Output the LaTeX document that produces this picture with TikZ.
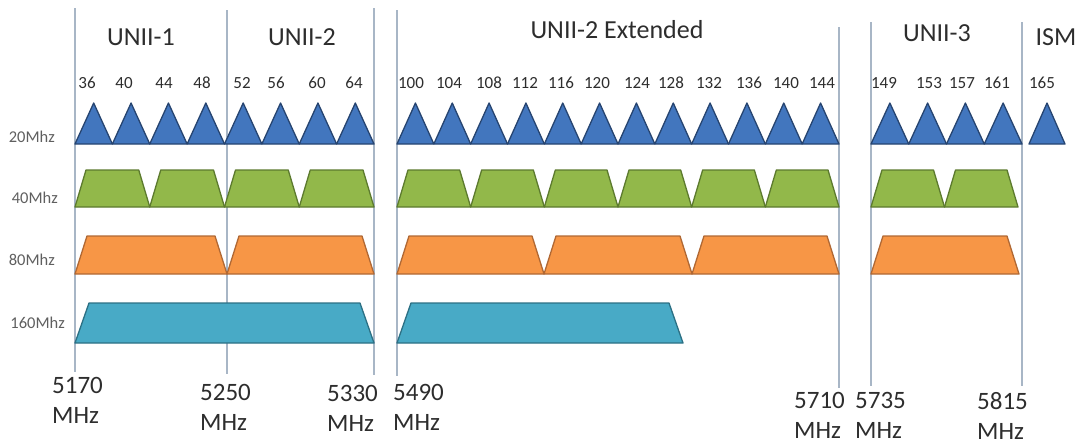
\documentclass[tikz,border=0pt]{standalone}
\usepackage{fontspec}
\setmainfont{Carlito}
\definecolor{bandgray}{RGB}{168,182,198}
\definecolor{chanblue}{RGB}{66,118,190}
\definecolor{chanblueedge}{RGB}{38,68,112}
\definecolor{changreen}{RGB}{146,184,74}
\definecolor{changreenedge}{RGB}{92,122,46}
\definecolor{chanorange}{RGB}{247,150,70}
\definecolor{chanorangeedge}{RGB}{176,104,52}
\definecolor{chanteal}{RGB}{72,170,198}
\definecolor{chantealedge}{RGB}{44,112,132}
\definecolor{labelgray}{RGB}{45,45,45}
\definecolor{rowgray}{RGB}{95,95,95}

\begin{document}
\begin{tikzpicture}[x=1pt,y=-1pt,line join=round,
    bandline/.style={bandgray,line width=1.4pt},
    tri/.style={fill=chanblue,draw=chanblueedge,line width=1.3pt},
    wide40/.style={fill=changreen,draw=changreenedge,line width=1.3pt},
    wide80/.style={fill=chanorange,draw=chanorangeedge,line width=1.3pt},
    wide160/.style={fill=chanteal,draw=chantealedge,line width=1.3pt},
    bandtitle/.style={font=\fontsize{26}{30}\selectfont,text=labelgray,inner sep=0pt},
    chan/.style={font=\fontsize{17}{20}\selectfont,text=labelgray,inner sep=0pt},
    rowname/.style={font=\fontsize{16.5}{20}\selectfont,text=rowgray,inner sep=0pt,anchor=east},
    freq/.style={font=\fontsize{25}{30}\selectfont,text=labelgray,inner sep=0pt,
      align=left,anchor=north west}]
    \useasboundingbox (0,0) rectangle (1082,445);

    \foreach \x/\top/\bot in {75/8/372,227/10/374,374/8/375,397/10/376,
      839/27/388,871/22/386,1022/22/386} {
      \draw[bandline] (\x,\top)--(\x,\bot);
    }

    \foreach \s/\w/\n in {75/37.375/8,397/36.833/12,871/37.75/4,1029/36/1} {
      \foreach \i in {1,...,\n} {
        \draw[tri] ({\s+\w*(\i-1)},144)--++({\w/2},-41)--++({\w/2},41)--cycle;
      }
    }
    \foreach \s/\w/\n in {75/74.75/4,397/73.667/6,871/73.5/2} {
      \foreach \i in {1,...,\n} {
        \draw[wide40] ({\s+\w*(\i-1)},207)--++(11,-37)
          --({\s+\w*\i-11},170)--({\s+\w*\i},207)--cycle;
      }
    }
    \foreach \a/\b in {75/227,227/374,397/544,544/692,692/839,871/1019} {
      \draw[wide80] (\a,274)--(\a+12,236)--(\b-12,236)--(\b,274)--cycle;
    }
    \foreach \a/\b in {75/374,397/683} {
      \draw[wide160] (\a,343)--(\a+14,303)--(\b-14,303)--(\b,343)--cycle;
    }

    \node[bandtitle] (unii1) at (141,37) {UNII-1};
    \node[bandtitle] (unii2) at (302,37) {UNII-2};
    \node[bandtitle] (unii2e) at (617,30) {UNII-2 Extended};
    \node[bandtitle] (unii3) at (937,33) {UNII-3};
    \node[bandtitle] (ism) at (1056,37) {ISM};

    \foreach \x/\c in {87/36,124/40,164/44,202/48,242/52,276/56,317/60,354/64,
      411/100,449/104,489/108,525/112,561/116,597/120,637/124,671/128,
      709/132,749/136,786/140,822/144,884/149,929/153,962/157,997/161,1042/165} {
      \node[chan] (ch\c) at (\x,83) {\c};
    }

    \node[rowname] (row20) at (55,137) {20Mhz};
    \node[rowname] (row40) at (58,198) {40Mhz};
    \node[rowname] (row80) at (55,260) {80Mhz};
    \node[rowname] (row160) at (65,323) {160Mhz};

    \foreach \x/\y/\f in {52/377/5170,200/384/5250,327/385/5330,393/384/5490,
      794/392/5710,855/392/5735,977/392/5815} {
      \node[freq] (f\f) at (\x,\y) {\f\\MHz};
    }
\end{tikzpicture}
\end{document}
